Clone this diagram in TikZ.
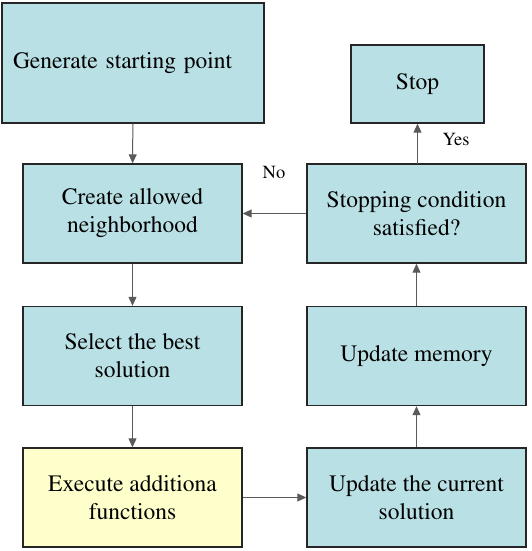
\documentclass[tikz,border=0pt]{standalone}
\usepackage[T1]{fontenc}
\renewcommand{\rmdefault}{ptm}
\usetikzlibrary{arrows.meta}
\definecolor{boxblue}{RGB}{185,224,228}
\definecolor{boxyellow}{RGB}{255,255,204}
\definecolor{linegray}{RGB}{90,90,90}
\tikzset{
  stepbox/.style={draw=black!85,line width=1.4pt,fill=boxblue,align=center,
    minimum width=219pt,minimum height=99pt,inner sep=4pt,
    font=\rmfamily\fontsize{23.5}{28}\selectfont},
  flow/.style={->,draw=linegray,line width=1pt},
  answer/.style={font=\rmfamily\fontsize{18.5}{22}\selectfont}
}
\begin{document}
\begin{tikzpicture}[x=1pt,y=-1pt,>={Triangle[length=9pt,width=8pt]}]
			\useasboundingbox (0,0) rectangle (532,551);
			\node[stepbox,minimum width=262pt,minimum height=120pt,text width=240pt,
			  inner xsep=11pt,align=left] (gen) at (133,63) {Generate starting point};
			\node[stepbox] (create) at (132.5,213.5) {Create allowed\\neighborhood};
			\node[stepbox] (select) at (132.5,356) {Select the best\\solution};
			\node[stepbox,fill=boxyellow] (exec) at (132.5,497.5) {Execute additiona\\functions};
			\node[stepbox] (current) at (416.5,497.5) {Update the current\\solution};
			\node[stepbox] (memory) at (416.5,356) {Update memory};
			\node[stepbox] (cond) at (416.5,213.5) {Stopping condition\\satisfied?};
			\node[stepbox,minimum width=133pt,minimum height=78pt] (stop) at (417.5,84) {Stop};
			\draw[flow] (gen) -- (create);
			\draw[flow] (create) -- (select);
			\draw[flow] (select) -- (exec);
			\draw[flow] (exec) -- (current);
			\draw[flow] (current) -- (memory);
			\draw[flow] (memory) -- (cond);
			\draw[flow] (cond.north) -- (cond.north -| stop.south) -- (stop.south);
			\draw[flow] (cond) -- (create);
			\node[answer] (yes) at (456,140) {Yes};
			\node[answer] (no) at (274,173) {No};
		\end{tikzpicture}
\end{document}
